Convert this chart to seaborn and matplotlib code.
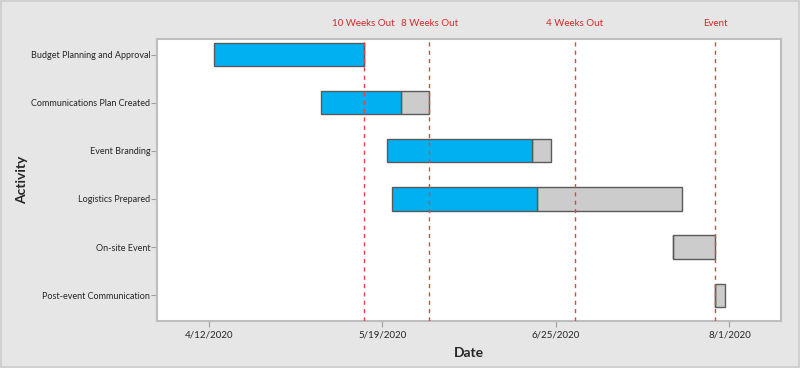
import matplotlib
matplotlib.use("Agg")
import matplotlib.pyplot as plt
import matplotlib.dates as mdates
import pandas as pd
import seaborn as sns

# activities and their schedule
activities = ["Budget Planning and Approval", "Communications Plan Created", "Event Branding",
              "Logistics Prepared", "On-site Event", "Post-event Communication"]
start_dates = ["2020-04-13", "2020-05-06", "2020-05-20", "2020-05-21", "2020-07-20", "2020-07-29"]
done_dates = ["2020-05-15", "2020-05-23", "2020-06-20", "2020-06-21", "2020-07-20", "2020-07-29"]
end_dates = ["2020-05-15", "2020-05-29", "2020-06-24", "2020-07-22", "2020-07-29", "2020-07-31"]

# reference lines
milestone_labels = ["10 Weeks Out", "8 Weeks Out", "4 Weeks Out", "Event"]
milestone_dates = ["2020-05-15", "2020-05-29", "2020-06-29", "2020-07-29"]

# x axis ticks
tick_dates = ["2020-04-12", "2020-05-19", "2020-06-25", "2020-08-01"]
tick_labels = ["4/12/2020", "5/19/2020", "6/25/2020", "8/1/2020"]

df = pd.DataFrame({
    "activity": activities,
    "start": pd.to_datetime(start_dates),
    "done": pd.to_datetime(done_dates),
    "end": pd.to_datetime(end_dates),
})

sns.set_theme(style="white")
plt.rcParams["font.family"] = ["Lato", "DejaVu Sans"]

fig = plt.figure(figsize=(8, 3.68), dpi=100)
fig.patch.set_facecolor("#E6E6E6")
fig.patch.set_edgecolor("#D0D0D0")
fig.patch.set_linewidth(1.5)
ax = fig.add_axes([0.1966, 0.1277, 0.7796, 0.7663])
ax.set_facecolor("white")

y = list(range(len(df)))
start_num = mdates.date2num(df["start"])
done_num = mdates.date2num(df["done"])
end_num = mdates.date2num(df["end"])

# remaining part (grey) and completed part (blue)
ax.barh(y, end_num - done_num, left=done_num, height=0.48,
        color="#CCCCCC", edgecolor="#5A5A5A", linewidth=1, zorder=2)
ax.barh(y, done_num - start_num, left=start_num, height=0.48,
        color="#00B0F0", edgecolor="#5A5A5A", linewidth=1, zorder=2)

for label, d in zip(milestone_labels, milestone_dates):
    x = mdates.date2num(pd.Timestamp(d))
    ax.axvline(x, color="#E34446", linestyle=(0, (3, 3)), linewidth=1, zorder=3)
    ax.text(x, 1.055, label, transform=ax.get_xaxis_transform(), ha="center", va="center",
            color="#D42A2A", fontsize=7)

ax.set_yticks(y)
ax.set_yticklabels(activities)
ax.set_ylim(5.54, -0.33)
ax.set_xticks(mdates.date2num(pd.to_datetime(tick_dates)))
ax.set_xticklabels(tick_labels)
ax.set_xlim(mdates.date2num(pd.Timestamp("2020-04-01")), mdates.date2num(pd.Timestamp("2020-08-12")))

ax.tick_params(axis="y", labelsize=6.5, length=4, width=0.8, color="#A0A0A0",
               direction="out", left=True, pad=1)
ax.tick_params(axis="x", labelsize=7, length=4, width=0.8, color="#A0A0A0",
               direction="out", bottom=True, pad=3)
for s in ax.spines.values():
    s.set_color("#BDBDBD")
    s.set_linewidth(1.5)

ax.set_xlabel("Date", fontsize=10, fontweight="bold", labelpad=5)
ax.set_ylabel("Activity", fontsize=10, fontweight="bold", labelpad=2)

fig.savefig("out.png", dpi=100, facecolor=fig.get_facecolor(), edgecolor=fig.get_edgecolor())
